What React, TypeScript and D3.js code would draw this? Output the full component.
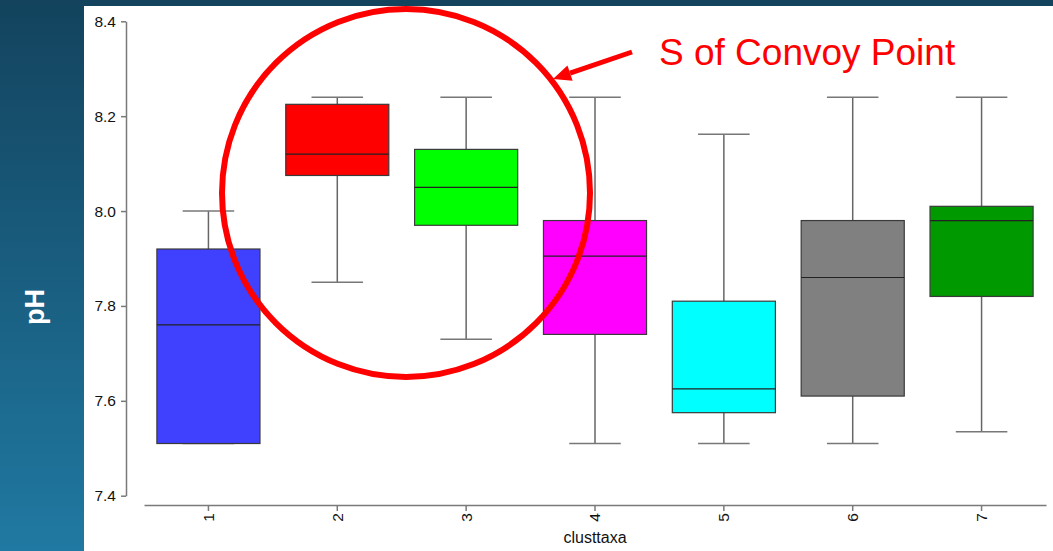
import React, { useEffect, useRef } from 'react';
import * as d3 from 'd3';

// box plot stats per cluster
const categories = ['1', '2', '3', '4', '5', '6', '7'];
const whiskerLow = [7.51, 7.85, 7.73, 7.51, 7.51, 7.51, 7.535];
const q1 = [7.51, 8.075, 7.97, 7.74, 7.575, 7.61, 7.82];
const medians = [7.76, 8.12, 8.05, 7.905, 7.625, 7.86, 7.98];
const q3 = [7.92, 8.225, 8.13, 7.98, 7.81, 7.98, 8.01];
const whiskerHigh = [8.0, 8.24, 8.24, 8.24, 8.162, 8.24, 8.24];
const boxColors = ['#4040ff', '#ff0000', '#00ff00', '#ff00ff', '#00ffff', '#808080', '#009900'];
const yTicks = [7.4, 7.6, 7.8, 8.0, 8.2, 8.4];

const W = 1053;
const H = 551;
const FONT = '"Liberation Sans", Arial, sans-serif';

const BoxPlot = () => {
  const ref = useRef<SVGSVGElement>(null);

  useEffect(() => {
    const svg = d3.select(ref.current);
    svg.selectAll('*').remove();

    // slide background
    const defs = svg.append('defs');
    const grad = defs.append('linearGradient')
      .attr('id', 'bg').attr('x1', 0).attr('y1', 0).attr('x2', 0).attr('y2', 1);
    grad.append('stop').attr('offset', '0%').attr('stop-color', '#13435d');
    grad.append('stop').attr('offset', '100%').attr('stop-color', '#2079a2');
    svg.append('rect').attr('width', W).attr('height', H).attr('fill', 'url(#bg)');

    // white plot panel
    svg.append('rect').attr('x', 84).attr('y', 6).attr('width', W - 84).attr('height', H - 6).attr('fill', '#fff');

    const x = d3.scaleBand().domain(categories).range([144, 1046]).padding(0);
    const y = d3.scaleLinear().domain([7.4, 8.4]).range([495.7, 21.3]);
    const bw = x.bandwidth();
    const cx = (i) => (x(categories[i]) as number) + bw / 2;

    // y axis
    const yAxis = svg.append('g')
      .attr('transform', 'translate(126,0)')
      .call(d3.axisLeft(y).tickValues(yTicks).tickFormat(d3.format('.1f')).tickSize(5).tickSizeOuter(0).tickPadding(5));
    yAxis.selectAll('path, line').attr('stroke', '#7a7a7a').attr('stroke-width', 1.5);
    yAxis.selectAll('text').attr('fill', '#111').style('font-family', FONT).style('font-size', '15.5px');

    // x axis
    const xAxis = svg.append('g')
      .attr('transform', 'translate(0,505)')
      .call(d3.axisBottom(x).tickSize(6).tickSizeOuter(0));
    xAxis.selectAll('path, line').attr('stroke', '#7a7a7a').attr('stroke-width', 1.5);
    xAxis.selectAll('text')
      .attr('fill', '#111')
      .attr('y', 0).attr('x', -8).attr('dy', '0.35em')
      .attr('transform', 'rotate(-90)')
      .style('text-anchor', 'end')
      .style('font-family', FONT).style('font-size', '15.5px');

    svg.append('text')
      .attr('x', (144 + 1046) / 2).attr('y', 543)
      .attr('text-anchor', 'middle')
      .attr('fill', '#111')
      .style('font-family', FONT).style('font-size', '16px')
      .text('clusttaxa');

    svg.append('text')
      .attr('transform', 'translate(44,307) rotate(-90)')
      .attr('text-anchor', 'middle')
      .attr('fill', '#fff')
      .style('font-family', FONT).style('font-size', '27px').style('font-weight', 'bold')
      .text('pH');

    const g = svg.append('g');
    const idx = categories.map((_, i) => i);

    // whiskers
    g.selectAll('.wlo').data(idx).join('line')
      .attr('x1', cx).attr('x2', cx)
      .attr('y1', (i) => y(whiskerLow[i])).attr('y2', (i) => y(q1[i]))
      .attr('stroke', '#666').attr('stroke-width', 1.5);
    g.selectAll('.whi').data(idx).join('line')
      .attr('x1', cx).attr('x2', cx)
      .attr('y1', (i) => y(whiskerHigh[i])).attr('y2', (i) => y(q3[i]))
      .attr('stroke', '#666').attr('stroke-width', 1.5);
    // caps
    [whiskerLow, whiskerHigh].forEach((arr) => {
      g.append('g').selectAll('line').data(idx).join('line')
        .attr('x1', (i) => cx(i) - bw * 0.2).attr('x2', (i) => cx(i) + bw * 0.2)
        .attr('y1', (i) => y(arr[i])).attr('y2', (i) => y(arr[i]))
        .attr('stroke', '#777').attr('stroke-width', 1.5);
    });

    // boxes
    g.append('g').selectAll('rect').data(idx).join('rect')
      .attr('x', (i) => cx(i) - bw * 0.4)
      .attr('width', bw * 0.8)
      .attr('y', (i) => y(q3[i]))
      .attr('height', (i) => y(q1[i]) - y(q3[i]))
      .attr('fill', (i) => boxColors[i])
      .attr('stroke', '#3a3a3a').attr('stroke-width', 1.2);

    // medians
    g.append('g').selectAll('line').data(idx).join('line')
      .attr('x1', (i) => cx(i) - bw * 0.4).attr('x2', (i) => cx(i) + bw * 0.4)
      .attr('y1', (i) => y(medians[i])).attr('y2', (i) => y(medians[i]))
      .attr('stroke', '#222').attr('stroke-width', 1.2);

    // annotation: circle around clusters 2-3 and arrow with label
    svg.append('circle')
      .attr('cx', 406).attr('cy', 193).attr('r', 184)
      .attr('fill', 'none').attr('stroke', '#ff0000').attr('stroke-width', 6);

    const tip = [553, 79];
    const tail = [632, 52];
    const dx = tip[0] - tail[0];
    const dy = tip[1] - tail[1];
    const len = Math.hypot(dx, dy);
    const ux = dx / len;
    const uy = dy / len;
    const headLen = 18;
    const headHalf = 8;
    const bx = tip[0] - ux * headLen;
    const by = tip[1] - uy * headLen;
    svg.append('line')
      .attr('x1', tail[0]).attr('y1', tail[1]).attr('x2', bx).attr('y2', by)
      .attr('stroke', '#ff0000').attr('stroke-width', 5);
    svg.append('path')
      .attr('d', `M${tip[0]},${tip[1]}L${bx - uy * headHalf},${by + ux * headHalf}L${bx + uy * headHalf},${by - ux * headHalf}Z`)
      .attr('fill', '#ff0000');

    svg.append('text')
      .attr('x', 659).attr('y', 65)
      .attr('fill', '#ff0000')
      .style('font-family', FONT).style('font-size', '37px')
      .text('S of Convoy Point');
  }, []);

  return <svg ref={ref} width={W} height={H} style={{ display: 'block' }} />;
};

export default function App() {
  return (
    <div style={{ position: 'absolute', left: 0, top: 0 }}>
      <BoxPlot />
    </div>
  );
}
